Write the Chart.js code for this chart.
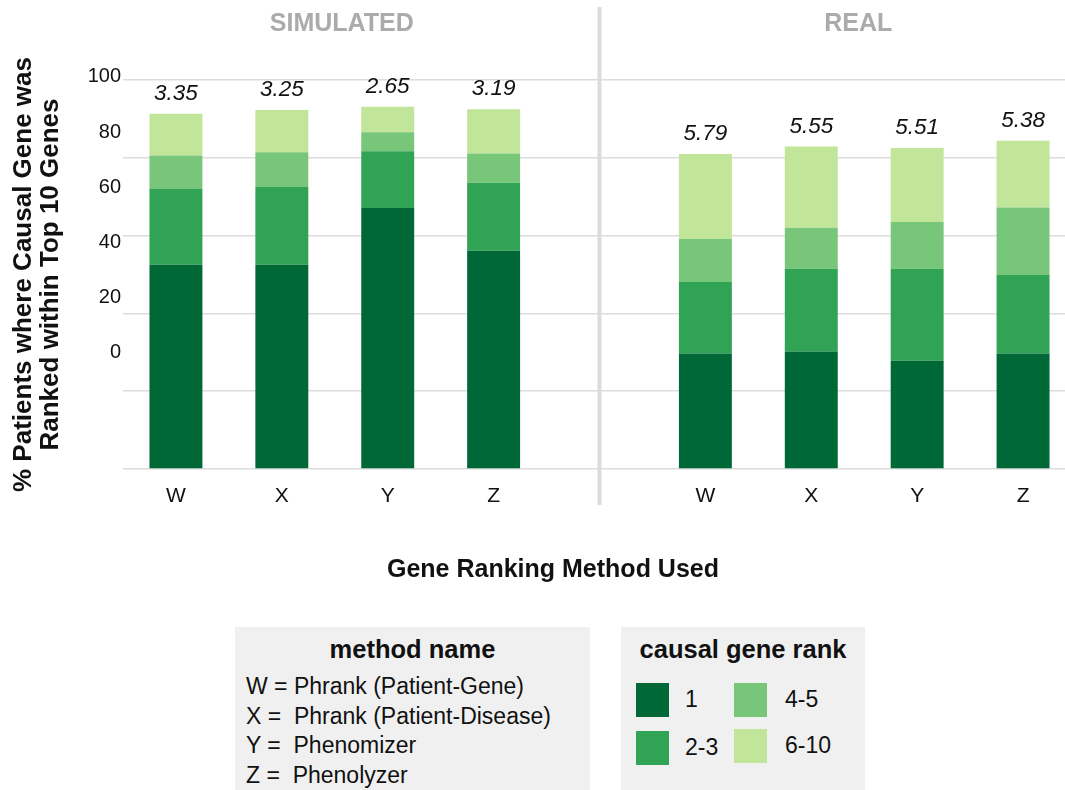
<!DOCTYPE html>
<html>
<head>
<meta charset="utf-8">
<script src="https://cdn.jsdelivr.net/npm/chart.js@4"></script>
<style>
  body { margin: 0; background: #fff; font-family: 'Liberation Sans', Arial, sans-serif; color: #111; }
  #wrap { position: relative; width: 1065px; height: 790px; overflow: hidden; }
  #chartBox { position: absolute; left: 0; top: 0; width: 1076px; height: 600px; }
  #xTitle { position: absolute; top: 554px; left: 303px; width: 500px; text-align: center; font-weight: bold; font-size: 25px; }
  .legBox { position: absolute; top: 627px; height: 163px; background: #f0f0f0; }
  .legTitle { font-weight: bold; font-size: 25.5px; text-align: center; margin-top: 8px; }
  #methods { left: 235px; width: 355px; }
  #methods .row { font-size: 23px; margin-left: 11px; height: 29.7px; line-height: 29.7px; white-space: pre; }
  #methods .legTitle { margin-bottom: 8px; }
  #ranks { left: 621px; width: 244px; }
  .sw { position: absolute; width: 33px; height: 34px; }
  .swLab { position: absolute; font-size: 23px; }
</style>
</head>
<body>
<div id="wrap">
  <div id="chartBox"><canvas id="myChart" width="1076" height="600"></canvas></div>
  <div id="xTitle">Gene Ranking Method Used</div>
  <div class="legBox" id="methods"><div class="legTitle">method name</div></div>
  <div class="legBox" id="ranks"><div class="legTitle">causal gene rank</div></div>
</div>
<script>
// categorias (coluna vazia no meio separa os paineis)
const methodLabels = ['W', 'X', 'Y', 'Z', '', 'W', 'X', 'Y', 'Z'];
const panelTitles = ['SIMULATED', 'REAL'];

// % de pacientes por faixa de rank do gene causal
const rank1     = [52.5, 52.5, 67.1, 56.1, null, 29.7, 30.2, 27.8, 29.7];
const rank2to3  = [19.5, 20.0, 14.6, 17.5, null, 18.4, 21.3, 23.7, 20.2];
const rank4to5  = [8.6, 8.9, 4.9, 7.5, null, 11.1, 10.5, 12.0, 17.3];
const rank6to10 = [10.7, 10.9, 6.5, 11.4, null, 21.8, 20.9, 19.0, 17.2];

// rank medio mostrado acima de cada barra
const meanRank = ['3.35', '3.25', '2.65', '3.19', null, '5.79', '5.55', '5.51', '5.38'];

const yTickLabels = [0, 20, 40, 60, 80, 100];
const rankNames = ['1', '2-3', '4-5', '6-10'];
const rankColors = ['#006837', '#31a354', '#78c679', '#c2e699'];
const methodNames = [
  'W = Phrank (Patient-Gene)',
  'X =  Phrank (Patient-Disease)',
  'Y =  Phenomizer',
  'Z =  Phenolyzer'
];

const FONT = "'Liberation Sans', Arial, sans-serif";

// legenda em HTML
const methodsBox = document.getElementById('methods');
methodNames.forEach(t => {
  const d = document.createElement('div');
  d.className = 'row';
  d.textContent = t;
  methodsBox.appendChild(d);
});
const ranksBox = document.getElementById('ranks');
const swPos = [[15, 56], [15, 104], [113, 56], [113, 102]]; // 1, 2-3, 4-5, 6-10
rankNames.forEach((n, i) => {
  const s = document.createElement('div');
  s.className = 'sw';
  s.style.left = swPos[i][0] + 'px';
  s.style.top = swPos[i][1] + 'px';
  s.style.background = rankColors[i];
  ranksBox.appendChild(s);
  const l = document.createElement('div');
  l.className = 'swLab';
  l.style.left = (swPos[i][0] + (i < 2 ? 49 : 51)) + 'px';
  l.style.top = (swPos[i][1] + 3) + 'px';
  l.textContent = n;
  ranksBox.appendChild(l);
});

// titulos dos paineis, divisoria e valores acima das barras
const extrasPlugin = {
  id: 'extras',
  afterDraw(chart) {
    const ctx = chart.ctx;
    const x = chart.scales.x;
    ctx.save();
    // divisoria
    const xd = x.getPixelForValue(4);
    ctx.strokeStyle = '#dcdcdc';
    ctx.lineWidth = 4;
    ctx.beginPath();
    ctx.moveTo(xd, 7);
    ctx.lineTo(xd, 505);
    ctx.stroke();
    // titulos
    ctx.fillStyle = '#ababab';
    ctx.font = 'bold 25px ' + FONT;
    ctx.textAlign = 'center';
    ctx.textBaseline = 'middle';
    ctx.fillText(panelTitles[0], (x.getPixelForValue(0) + x.getPixelForValue(3)) / 2 + 7, 24);
    ctx.fillText(panelTitles[1], (x.getPixelForValue(5) + x.getPixelForValue(8)) / 2 - 6, 24);
    // rank medio
    const topMeta = chart.getDatasetMeta(chart.data.datasets.length - 1);
    ctx.fillStyle = '#111';
    ctx.font = 'italic 22.5px ' + FONT;
    meanRank.forEach((v, i) => {
      if (v === null) return;
      const bar = topMeta.data[i];
      ctx.fillText(v, bar.x, bar.y - 20);
    });
    ctx.restore();
  }
};

const ctx1 = document.getElementById('myChart').getContext('2d');
const series = [rank1, rank2to3, rank4to5, rank6to10];

new Chart(ctx1, {
  type: 'bar',
  data: {
    labels: methodLabels,
    datasets: series.map((d, i) => ({
      label: rankNames[i],
      data: d,
      backgroundColor: rankColors[i],
      borderWidth: 0,
      barPercentage: 0.5,
      categoryPercentage: 1
    }))
  },
  options: {
    responsive: false,
    animation: false,
    layout: { padding: { top: 80, right: 0, left: 0, bottom: 0 } },
    plugins: {
      legend: { display: false },
      tooltip: { enabled: false }
    },
    scales: {
      x: {
        stacked: true,
        grid: { display: false, drawTicks: false },
        border: { display: false },
        ticks: {
          color: '#111',
          padding: 15,
          font: { size: 21, family: FONT }
        },
        afterFit(scale) { scale.height = 131; }
      },
      y: {
        stacked: true,
        min: 0,
        max: 100,
        position: 'left',
        ticks: { display: false, stepSize: 20 },
        grid: { color: '#dcdcdc', lineWidth: 1.5, drawTicks: false },
        border: { display: false },
        afterFit(scale) { scale.width = 0; }
      },
      yLab: {
        // eixo so para os rotulos (desalinhados como no original)
        position: 'left',
        min: -42.5,
        max: 98.9,
        grid: { display: false, drawTicks: false },
        border: { display: false },
        afterBuildTicks(scale) {
          scale.ticks = yTickLabels.map(v => ({ value: v }));
        },
        ticks: {
          autoSkip: false,
          padding: 2,
          color: '#111',
          font: { size: 20, family: FONT }
        },
        title: {
          display: true,
          text: ['% Patients where Causal Gene was', 'Ranked within Top 10 Genes'],
          color: '#111',
          font: { size: 26, weight: 'bold', family: FONT, lineHeight: 1.05 },
          padding: { top: 10, bottom: 0 }
        },
        afterFit(scale) { scale.width = 123; }
      }
    }
  },
  plugins: [extrasPlugin]
});
</script>
</body>
</html>
